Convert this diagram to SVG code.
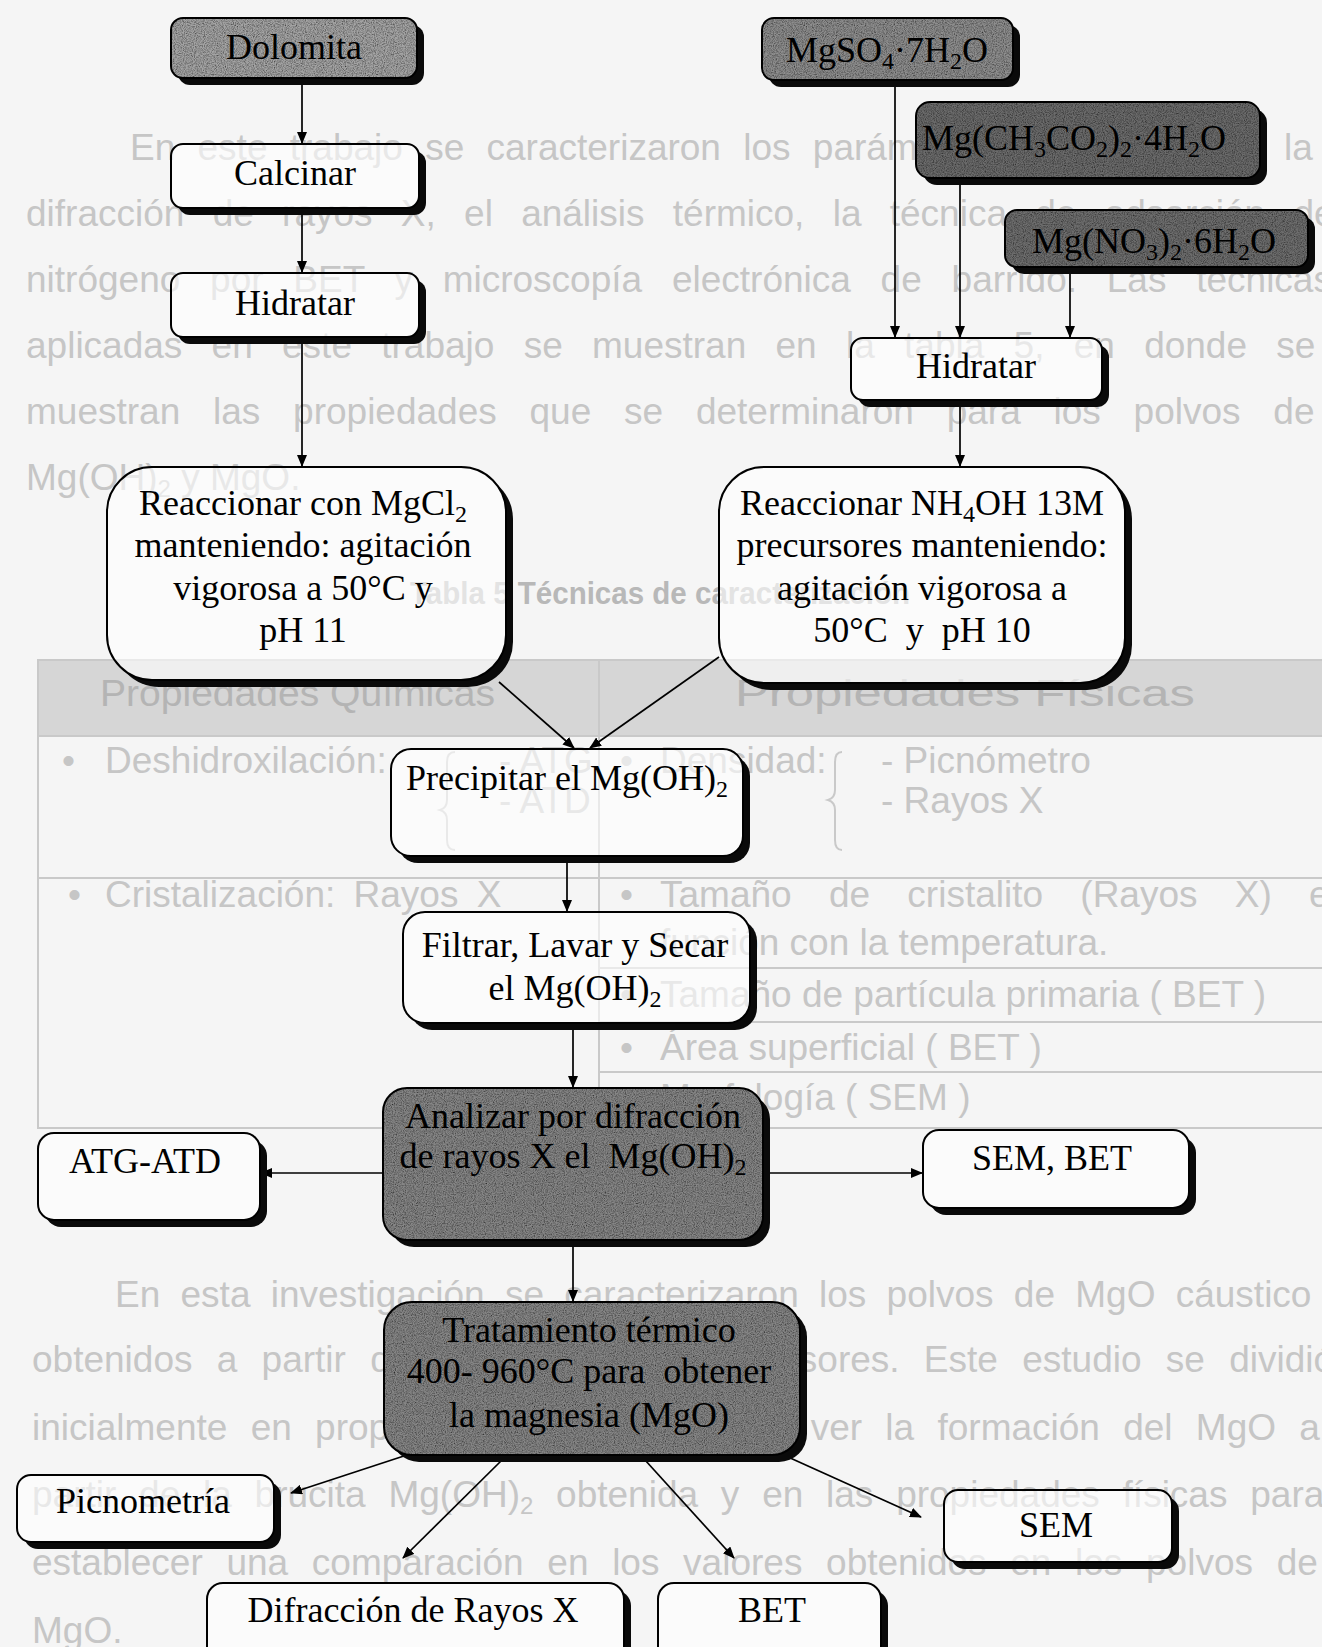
<svg xmlns="http://www.w3.org/2000/svg" width="1322" height="1647" viewBox="0 0 1322 1647">
<style>
.bgt{font-family:"Liberation Sans",Arial,sans-serif;font-size:37px;fill:#c6c6c6}
.bgb{font-family:"Liberation Sans",Arial,sans-serif;font-size:32px;font-weight:bold;fill:#b8b8b8}
.hd{fill:#b4b4b4}
.tl{stroke:#c9c9c9;stroke-width:2;fill:none}
.sh{fill:#0a0a0a}
.box{fill:#ffffff;fill-opacity:0.6;stroke:#000;stroke-width:2}
.line{fill:none;stroke:#000;stroke-width:2}
.t{font-family:"Liberation Serif","Times New Roman",serif;font-size:36px;fill:#000;text-anchor:middle;white-space:pre}
.s{font-size:24px}
.edge{stroke:#000;stroke-width:1.7;fill:none;marker-end:url(#ah)}
</style>
<defs>
<marker id="ah" viewBox="0 0 12 10" refX="11" refY="5" markerWidth="12" markerHeight="10" markerUnits="userSpaceOnUse" orient="auto">
<path d="M0,0 L12,5 L0,10 Z" fill="#000"/>
</marker>
<filter id="grain" x="0" y="0" width="100%" height="100%">
<feTurbulence type="fractalNoise" baseFrequency="0.9" numOctaves="2" seed="4" result="n"/>
<feColorMatrix in="n" type="matrix" values="0 0 0 0 0  0 0 0 0 0  0 0 0 0 0  1.6 0 0 0 -0.55" result="a"/>
<feComposite in="a" in2="SourceGraphic" operator="in" result="g"/>
<feMerge><feMergeNode in="SourceGraphic"/><feMergeNode in="g"/></feMerge>
</filter>
<rect id="g-calcinar" x="171" y="144" width="248" height="64" rx="12"/>
<rect id="g-hid1" x="171" y="273" width="248" height="64" rx="12"/>
<rect id="g-reacl" x="107" y="467" width="399" height="213" rx="45"/>
<rect id="g-hid2" x="851" y="338" width="251" height="62" rx="12"/>
<rect id="g-reacr" x="719" y="467" width="406" height="216" rx="45"/>
<rect id="g-prec" x="391" y="749" width="352" height="107" rx="20"/>
<rect id="g-filt" x="403" y="912" width="347" height="111" rx="22"/>
<rect id="g-atg" x="38" y="1133" width="222" height="87" rx="16"/>
<rect id="g-sembet" x="923" y="1130" width="266" height="78" rx="16"/>
<rect id="g-picno" x="17" y="1475" width="257" height="67" rx="14"/>
<rect id="g-difr" x="207" y="1583" width="417" height="80" rx="16"/>
<rect id="g-bet" x="658" y="1583" width="223" height="80" rx="16"/>
<rect id="g-sem" x="944" y="1490" width="228" height="72" rx="14"/>
<mask id="holes" maskUnits="userSpaceOnUse" x="0" y="0" width="1322" height="1700">
<rect x="0" y="0" width="1322" height="1700" fill="#fff"/>
<use href="#g-calcinar" fill="#000"/>
<use href="#g-hid1" fill="#000"/>
<use href="#g-reacl" fill="#000"/>
<use href="#g-hid2" fill="#000"/>
<use href="#g-reacr" fill="#000"/>
<use href="#g-prec" fill="#000"/>
<use href="#g-filt" fill="#000"/>
<use href="#g-atg" fill="#000"/>
<use href="#g-sembet" fill="#000"/>
<use href="#g-picno" fill="#000"/>
<use href="#g-difr" fill="#000"/>
<use href="#g-bet" fill="#000"/>
<use href="#g-sem" fill="#000"/>
</mask>
</defs>

<rect x="0" y="0" width="1322" height="1647" fill="#f5f5f5"/>

<g id="background-page">
<text class="bgt" x="130" y="160" style="word-spacing:12px">En este trabajo se caracterizaron los parámetros</text>
<text class="bgt" x="1284" y="160">la</text>
<text class="bgt" x="26" y="226" style="word-spacing:18px">difracción de rayos X, el análisis térmico, la técnica de adsorción de</text>
<text class="bgt" x="26" y="292" style="word-spacing:19.5px">nitrógeno por BET y microscopía electrónica de barrido. Las técnicas</text>
<text class="bgt" x="26" y="358" style="word-spacing:19px">aplicadas en este trabajo se muestran en la tabla 5, en donde se</text>
<text class="bgt" x="26" y="424" style="word-spacing:22.5px">muestran las propiedades que se determinaron para los polvos de</text>
<text class="bgt" x="26" y="490">Mg(OH)<tspan font-size="24" dy="7">2</tspan><tspan dy="-7"> y MgO.</tspan></text>
<text class="bgb" x="410" y="604" textLength="500" lengthAdjust="spacingAndGlyphs">Tabla 5 Técnicas de caracterización</text>

<rect x="38" y="660" width="1300" height="76" fill="#d6d6d6"/>
<rect x="38" y="660" width="1300" height="468" class="tl"/>
<line x1="599" y1="660" x2="599" y2="1128" class="tl"/>
<line x1="38" y1="736" x2="1322" y2="736" class="tl"/>
<line x1="38" y1="878" x2="1322" y2="878" class="tl"/>
<line x1="599" y1="968" x2="1322" y2="968" class="tl"/>
<line x1="599" y1="1022" x2="1322" y2="1022" class="tl"/>
<line x1="599" y1="1072" x2="1322" y2="1072" class="tl"/>
<text class="bgt hd" x="100" y="706" textLength="395" lengthAdjust="spacingAndGlyphs">Propiedades Químicas</text>
<text class="bgt hd" x="735" y="706" textLength="460" lengthAdjust="spacingAndGlyphs">Propiedades Físicas</text>
<text class="bgt" x="62" y="773">•</text>
<text class="bgt" x="105" y="773">Deshidroxilación:</text>
<text class="bgt" x="499" y="773">- ATG</text>
<text class="bgt" x="499" y="813">- ATD</text>
<path class="tl" d="M455,752 Q447,752 447,762 V800 Q447,808 440,810 Q447,812 447,820 V840 Q447,850 455,850"/>
<text class="bgt" x="620" y="773">•</text>
<text class="bgt" x="660" y="773">Densidad:</text>
<path class="tl" d="M842,752 Q835,752 835,762 V790 Q835,798 828,800 Q835,802 835,810 V840 Q835,850 842,850"/>
<text class="bgt" x="881" y="773">- Picnómetro</text>
<text class="bgt" x="881" y="813">- Rayos X</text>
<text class="bgt" x="68" y="907">•</text>
<text class="bgt" x="105" y="907" style="word-spacing:8px">Cristalización: Rayos X</text>
<text class="bgt" x="620" y="907">•</text>
<text class="bgt" x="660" y="907" style="word-spacing:27px">Tamaño de cristalito (Rayos X) en</text>
<text class="bgt" x="660" y="955">función con la temperatura.</text>
<text class="bgt" x="620" y="1007">•</text>
<text class="bgt" x="660" y="1007">Tamaño de partícula primaria ( BET )</text>
<text class="bgt" x="620" y="1060">•</text>
<text class="bgt" x="660" y="1060">Área superficial ( BET )</text>
<text class="bgt" x="620" y="1110">•</text>
<text class="bgt" x="660" y="1110">Morfología ( SEM )</text>

<text class="bgt" x="115" y="1307" style="word-spacing:10px">En esta investigación se caracterizaron los polvos de MgO cáustico</text>
<text class="bgt" x="32" y="1372" style="word-spacing:14px">obtenidos a partir de los diferentes precursores. Este estudio se dividió</text>
<text class="bgt" x="32" y="1440" style="word-spacing:13px">inicialmente en propiedades químicas para ver la formación del MgO a</text>
<text class="bgt" x="32" y="1507" style="word-spacing:12.5px">partir de la brucita Mg(OH)<tspan font-size="24" dy="7">2</tspan><tspan dy="-7"> obtenida y en las propiedades físicas para</tspan></text>
<text class="bgt" x="32" y="1575" style="word-spacing:13.4px">establecer una comparación en los valores obtenidos en los polvos de</text>
<text class="bgt" x="32" y="1643">MgO.</text>
</g>

<g id="connectors">
<path class="edge" d="M302,78 V143"/>
<path class="edge" d="M302,208 V272"/>
<path class="edge" d="M302,337 V466"/>
<path class="edge" d="M895,80 V337"/>
<path class="edge" d="M960,178 V337"/>
<path class="edge" d="M1070,267 V337"/>
<path class="edge" d="M960,400 V466"/>
<path class="edge" d="M499,682 L574,748"/>
<path class="edge" d="M719,657 L590,748"/>
<path class="edge" d="M567,856 V911"/>
<path class="edge" d="M573,1023 V1087"/>
<path class="edge" d="M383,1173 H261"/>
<path class="edge" d="M763,1173 H922"/>
<path class="edge" d="M573,1240 V1301"/>
<path class="edge" d="M413,1453 L291,1493"/>
<path class="edge" d="M502,1460 L403,1558"/>
<path class="edge" d="M645,1460 L734,1558"/>
<path class="edge" d="M788,1457 L921,1517"/>
</g>

<g id="dolomita">
<rect class="sh" x="178" y="25" width="246" height="60" rx="12"/>
<rect x="171" y="18" width="246" height="60" rx="12" fill="#a4a4a4" filter="url(#grain)"/>
<rect class="line" x="171" y="18" width="246" height="60" rx="12"/>
<text class="t" x="294" y="59">Dolomita</text>
</g>

<g id="calcinar">
<g mask="url(#holes)"><use href="#g-calcinar" class="sh" transform="translate(7,7)"/></g>
<use href="#g-calcinar" class="box"/>
<text class="t" x="295" y="185">Calcinar</text>
</g>

<g id="hidratar-1">
<g mask="url(#holes)"><use href="#g-hid1" class="sh" transform="translate(7,7)"/></g>
<use href="#g-hid1" class="box"/>
<text class="t" x="295" y="315">Hidratar</text>
</g>

<g id="reaccionar-mgcl2">
<g mask="url(#holes)"><use href="#g-reacl" class="sh" transform="translate(7,7)"/></g>
<use href="#g-reacl" class="box"/>
<text class="t" x="303" y="515">Reaccionar con MgCl<tspan class="s" dy="7">2</tspan></text>
<text class="t" x="303" y="557">manteniendo: agitación</text>
<text class="t" x="303" y="600">vigorosa a 50°C y</text>
<text class="t" x="303" y="642">pH 11</text>
</g>

<g id="mgso4">
<rect class="sh" x="769" y="25" width="251" height="62" rx="12"/>
<rect x="762" y="18" width="251" height="62" rx="12" fill="#8e8e8e" filter="url(#grain)"/>
<rect class="line" x="762" y="18" width="251" height="62" rx="12"/>
<text class="t" x="887" y="62">MgSO<tspan class="s" dy="7">4</tspan><tspan dy="-7">·7H</tspan><tspan class="s" dy="7">2</tspan><tspan dy="-7">O</tspan></text>
</g>

<g id="mg-acetato">
<rect class="sh" x="923" y="109" width="344" height="76" rx="14"/>
<rect x="916" y="102" width="344" height="76" rx="14" fill="#6c6c6c" filter="url(#grain)"/>
<rect class="line" x="916" y="102" width="344" height="76" rx="14"/>
<text class="t" x="1074" y="150">Mg(CH<tspan class="s" dy="7">3</tspan><tspan dy="-7">CO</tspan><tspan class="s" dy="7">2</tspan><tspan dy="-7">)</tspan><tspan class="s" dy="7">2</tspan><tspan dy="-7">·4H</tspan><tspan class="s" dy="7">2</tspan><tspan dy="-7">O</tspan></text>
</g>

<g id="mg-nitrato">
<rect class="sh" x="1012" y="217" width="303" height="57" rx="12"/>
<rect x="1005" y="210" width="303" height="57" rx="12" fill="#6e6e6e" filter="url(#grain)"/>
<rect class="line" x="1005" y="210" width="303" height="57" rx="12"/>
<text class="t" x="1154" y="253">Mg(NO<tspan class="s" dy="7">3</tspan><tspan dy="-7">)</tspan><tspan class="s" dy="7">2</tspan><tspan dy="-7">·6H</tspan><tspan class="s" dy="7">2</tspan><tspan dy="-7">O</tspan></text>
</g>

<g id="hidratar-2">
<g mask="url(#holes)"><use href="#g-hid2" class="sh" transform="translate(7,7)"/></g>
<use href="#g-hid2" class="box"/>
<text class="t" x="976" y="378">Hidratar</text>
</g>

<g id="reaccionar-nh4oh">
<g mask="url(#holes)"><use href="#g-reacr" class="sh" transform="translate(7,7)"/></g>
<use href="#g-reacr" class="box"/>
<text class="t" x="922" y="515">Reaccionar NH<tspan class="s" dy="7">4</tspan><tspan dy="-7">OH 13M</tspan></text>
<text class="t" x="922" y="557">precursores manteniendo:</text>
<text class="t" x="922" y="600">agitación vigorosa a</text>
<text class="t" x="922" y="642" xml:space="preserve">50°C  y  pH 10</text>
</g>

<g id="precipitar">
<g mask="url(#holes)"><use href="#g-prec" class="sh" transform="translate(7,7)"/></g>
<use href="#g-prec" class="box"/>
<text class="t" x="567" y="790">Precipitar el Mg(OH)<tspan class="s" dy="7">2</tspan></text>
</g>

<g id="filtrar">
<g mask="url(#holes)"><use href="#g-filt" class="sh" transform="translate(7,7)"/></g>
<use href="#g-filt" class="box"/>
<text class="t" x="575" y="957">Filtrar, Lavar y Secar</text>
<text class="t" x="575" y="1000">el Mg(OH)<tspan class="s" dy="7">2</tspan></text>
</g>

<g id="analizar">
<rect class="sh" x="390" y="1095" width="380" height="152" rx="24"/>
<rect x="383" y="1088" width="380" height="152" rx="24" fill="#868686" filter="url(#grain)"/>
<rect class="line" x="383" y="1088" width="380" height="152" rx="24"/>
<text class="t" x="573" y="1128">Analizar por difracción</text>
<text class="t" x="573" y="1168" xml:space="preserve">de rayos X el  Mg(OH)<tspan class="s" dy="7">2</tspan></text>
</g>

<g id="atg-atd">
<g mask="url(#holes)"><use href="#g-atg" class="sh" transform="translate(7,7)"/></g>
<use href="#g-atg" class="box"/>
<text class="t" x="145" y="1173">ATG-ATD</text>
</g>

<g id="sem-bet">
<g mask="url(#holes)"><use href="#g-sembet" class="sh" transform="translate(7,7)"/></g>
<use href="#g-sembet" class="box"/>
<text class="t" x="1052" y="1170">SEM, BET</text>
</g>

<g id="tratamiento">
<rect class="sh" x="391" y="1309" width="416" height="153" rx="28"/>
<rect x="384" y="1302" width="416" height="153" rx="28" fill="#868686" filter="url(#grain)"/>
<rect class="line" x="384" y="1302" width="416" height="153" rx="28"/>
<text class="t" x="589" y="1342">Tratamiento térmico</text>
<text class="t" x="589" y="1383" xml:space="preserve">400- 960°C para  obtener</text>
<text class="t" x="589" y="1427">la magnesia (MgO)</text>
</g>

<g id="picnometria">
<g mask="url(#holes)"><use href="#g-picno" class="sh" transform="translate(7,7)"/></g>
<use href="#g-picno" class="box"/>
<text class="t" x="143" y="1513">Picnometría</text>
</g>

<g id="difraccion">
<g mask="url(#holes)"><use href="#g-difr" class="sh" transform="translate(7,7)"/></g>
<use href="#g-difr" class="box"/>
<text class="t" x="413" y="1622">Difracción de Rayos X</text>
</g>

<g id="bet">
<g mask="url(#holes)"><use href="#g-bet" class="sh" transform="translate(7,7)"/></g>
<use href="#g-bet" class="box"/>
<text class="t" x="772" y="1622">BET</text>
</g>

<g id="sem">
<g mask="url(#holes)"><use href="#g-sem" class="sh" transform="translate(7,7)"/></g>
<use href="#g-sem" class="box"/>
<text class="t" x="1056" y="1537">SEM</text>
</g>
</svg>
